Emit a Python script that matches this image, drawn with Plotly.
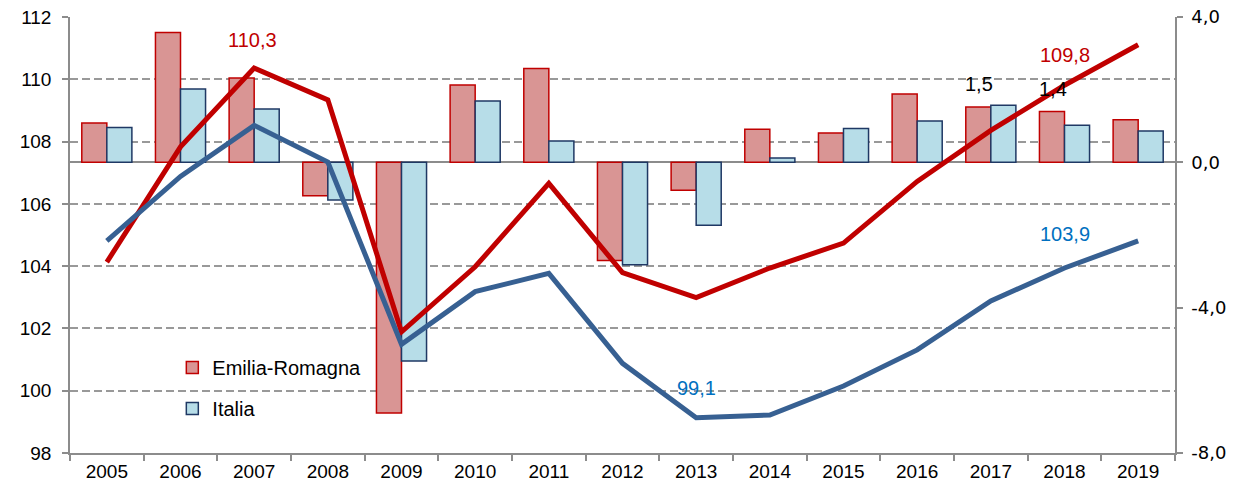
import plotly.graph_objects as go

years = ["2005", "2006", "2007", "2008", "2009", "2010", "2011", "2012",
         "2013", "2014", "2015", "2016", "2017", "2018", "2019"]

# growth rates (right axis, bars)
er_growth = [1.08, 3.57, 2.32, -0.92, -6.90, 2.13, 2.58, -2.70, -0.77, 0.91,
             0.81, 1.88, 1.52, 1.40, 1.17]
it_growth = [0.96, 2.02, 1.47, -1.04, -5.47, 1.69, 0.59, -2.82, -1.73, 0.12,
             0.93, 1.14, 1.57, 1.02, 0.86]

# index levels (left axis, lines)
er_index = [104.13, 107.83, 110.36, 109.34, 101.89, 103.98, 106.66, 103.79,
            102.99, 103.94, 104.74, 106.72, 108.36, 109.81, 111.11]
it_index = [104.81, 106.88, 108.52, 107.34, 101.49, 103.18, 103.77, 100.88,
            99.13, 99.22, 100.15, 101.31, 102.88, 103.94, 104.81]

# right-axis ticks
right_tickvals = [-8, -4, 0, 4]
right_ticktext = ["-8,0", "-4,0", "0,0", "4,0"]

RED = "#c00000"
BLUE = "#376092"
LABEL_BLUE = "#0070c0"
GRAY = "#8c8c8c"
FONT = "Liberation Sans, Arial, sans-serif"

fig = go.Figure()

fig.add_trace(go.Bar(
    x=years, y=er_growth, name="Emilia-Romagna", yaxis="y",
    marker=dict(color="#d99594", line=dict(color=RED, width=1.5)),
    legendgroup="er", showlegend=True,
))
fig.add_trace(go.Bar(
    x=years, y=it_growth, name="Italia", yaxis="y",
    marker=dict(color="#b7dde8", line=dict(color="#1f3864", width=1.5)),
    legendgroup="it", showlegend=True,
))
fig.add_trace(go.Scatter(
    x=years, y=er_index, mode="lines", yaxis="y2",
    line=dict(color=RED, width=5), showlegend=False, hoverinfo="y",
))
fig.add_trace(go.Scatter(
    x=years, y=it_index, mode="lines", yaxis="y2",
    line=dict(color=BLUE, width=5), showlegend=False, hoverinfo="y",
))

annotations = [
    dict(year="2007", y=111.26, yref="y2", text="110,3", color=RED, xshift=-2),
    dict(year="2018", y=110.78, yref="y2", text="109,8", color=RED, xshift=0),
    dict(year="2018", y=105.03, yref="y2", text="103,9", color=LABEL_BLUE, xshift=0),
    dict(year="2013", y=100.10, yref="y2", text="99,1", color=LABEL_BLUE, xshift=0),
    dict(year="2017", y=2.15, yref="y", text="1,5", color="black", xshift=-12),
    dict(year="2018", y=2.01, yref="y", text="1,4", color="black", xshift=-12),
]
for a in annotations:
    fig.add_annotation(
        x=years.index(a["year"]), y=a["y"], xref="x", yref=a["yref"],
        text=a["text"], showarrow=False, xshift=a["xshift"],
        font=dict(family=FONT, size=20, color=a["color"]),
    )

fig.update_layout(
    width=1241, height=492,
    margin=dict(l=70, r=66, t=17, b=39, autoexpand=False),
    paper_bgcolor="white", plot_bgcolor="white",
    separators=",.",
    barmode="group", bargap=0.32, bargroupgap=0,
    font=dict(family=FONT, size=19, color="black"),
    xaxis=dict(
        type="category", range=[-0.5, len(years) - 0.5], automargin=False,
        tickson="boundaries", ticks="outside", ticklen=6,
        tickcolor=GRAY, tickwidth=1.5, showline=True, linecolor=GRAY,
        linewidth=1.5, showgrid=False, tickangle=0,
        tickfont=dict(size=19, family=FONT),
    ),
    yaxis=dict(
        side="right", range=[-8, 4], automargin=False,
        tickmode="array", tickvals=right_tickvals, ticktext=right_ticktext,
        ticks="outside", ticklen=6, tickcolor=GRAY, tickwidth=1.5,
        ticklabelstandoff=5,
        showline=True, linecolor=GRAY, linewidth=1.5, showgrid=False,
        zeroline=True, zerolinecolor=GRAY, zerolinewidth=1.5,
        tickfont=dict(family="DejaVu Sans, Verdana, sans-serif", size=18),
    ),
    yaxis2=dict(
        overlaying="y", side="left", range=[98, 112], dtick=2, automargin=False,
        ticks="outside", ticklen=6, tickcolor=GRAY, tickwidth=1.5,
        ticklabelstandoff=7,
        showline=True, linecolor=GRAY, linewidth=1.5,
        showgrid=True, gridcolor="#999999", gridwidth=1.5, griddash="8px,4px",
        zeroline=False, tickfont=dict(size=19, family=FONT),
    ),
    legend=dict(
        x=0.0926, y=0.241, xanchor="left", yanchor="top",
        bgcolor="rgba(0,0,0,0)", font=dict(size=20, family=FONT),
        tracegroupgap=12, traceorder="grouped",
    ),
)

fig.write_html(
    "out.html",
    config={"displayModeBar": False},
    post_script="document.body.style.margin='0';document.body.style.padding='0';",
)
